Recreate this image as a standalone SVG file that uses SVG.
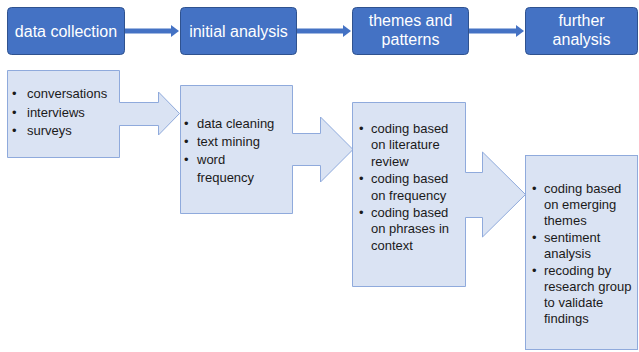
<svg xmlns="http://www.w3.org/2000/svg" width="639" height="352" viewBox="0 0 639 352">
<style>
.hdr{fill:#4472C4;stroke:#2F528F;stroke-width:1}
.ht{font-family:"Liberation Sans",Arial,sans-serif;font-size:16px;fill:#FFFFFF;text-anchor:middle}
.box{fill:#DAE3F3;stroke:#8FAADC;stroke-width:1}
.bt{font-family:"Liberation Sans",Arial,sans-serif;font-size:13px;fill:#1a1a1a}
.conn{stroke:#4472C4;stroke-width:5;fill:none}
.head{fill:#4472C4}
</style>
<rect width="639" height="352" fill="#FFFFFF"/>
<g id="connectors">
<line class="conn" x1="125" y1="31" x2="173" y2="31"/>
<polygon class="head" points="171,25 179,31 171,37"/>
<line class="conn" x1="297" y1="31" x2="345" y2="31"/>
<polygon class="head" points="343,25 351,31 343,37"/>
<line class="conn" x1="469" y1="31" x2="518" y2="31"/>
<polygon class="head" points="516,25 524,31 516,37"/>
</g>
<g id="h1"><rect class="hdr" x="7.5" y="7.5" width="117" height="47" rx="4"/><text class="ht" x="66" y="37">data collection</text></g>
<g id="h2"><rect class="hdr" x="180.5" y="7.5" width="116" height="47" rx="4"/><text class="ht" x="238.5" y="37">initial analysis</text></g>
<g id="h3"><rect class="hdr" x="352.5" y="7.5" width="116" height="47" rx="4"/><text class="ht" x="410.5" y="26">themes and</text><text class="ht" x="410.5" y="45">patterns</text></g>
<g id="h4"><rect class="hdr" x="525.5" y="7.5" width="112" height="47" rx="4"/><text class="ht" x="581.5" y="26">further</text><text class="ht" x="581.5" y="45">analysis</text></g>
<g id="b1">
<path class="box" d="M7.5,70.5 H119.5 V102.5 H158.5 V92 L179.5,113.5 L158.5,135 V125.5 H119.5 V157.5 H7.5 Z"/>
<text class="bt"><tspan x="12" y="98">•</tspan><tspan x="27" y="98">conversations</tspan><tspan x="12" y="116.5">•</tspan><tspan x="27" y="116.5">interviews</tspan><tspan x="12" y="135">•</tspan><tspan x="27" y="135">surveys</tspan></text>
</g>
<g id="b2">
<path class="box" d="M180.5,85.5 H292.5 V133.5 H320.5 V117 L353,149.5 L320.5,182 V165.5 H292.5 V213.5 H180.5 Z"/>
<text class="bt"><tspan x="184" y="127.5">•</tspan><tspan x="197" y="127.5">data cleaning</tspan><tspan x="184" y="146">•</tspan><tspan x="197" y="146">text mining</tspan><tspan x="184" y="164">•</tspan><tspan x="197" y="164">word</tspan><tspan x="197" y="181.5">frequency</tspan></text>
</g>
<g id="b3">
<path class="box" d="M352.5,102.5 H465.5 V172.5 H482.5 V152 L525.5,194.5 L482.5,237 V217.5 H465.5 V286.5 H352.5 Z"/>
<text class="bt"><tspan x="359" y="132.5">•</tspan><tspan x="371" y="132.5">coding based</tspan><tspan x="371" y="149">on literature</tspan><tspan x="371" y="165.5">review</tspan><tspan x="359" y="183">•</tspan><tspan x="371" y="183">coding based</tspan><tspan x="371" y="199.5">on frequency</tspan><tspan x="359" y="216.5">•</tspan><tspan x="371" y="216.5">coding based</tspan><tspan x="371" y="233">on phrases in</tspan><tspan x="371" y="249.5">context</tspan></text>
</g>
<g id="b4">
<rect class="box" x="525.5" y="155.5" width="112" height="194"/>
<text class="bt"><tspan x="532" y="192.5">•</tspan><tspan x="544" y="192.5">coding based</tspan><tspan x="544" y="208.8">on emerging</tspan><tspan x="544" y="225">themes</tspan><tspan x="532" y="241.5">•</tspan><tspan x="544" y="241.5">sentiment</tspan><tspan x="544" y="257.8">analysis</tspan><tspan x="532" y="274.5">•</tspan><tspan x="544" y="274.5">recoding by</tspan><tspan x="544" y="290.8">research group</tspan><tspan x="544" y="307">to validate</tspan><tspan x="544" y="323">findings</tspan></text>
</g>
</svg>
